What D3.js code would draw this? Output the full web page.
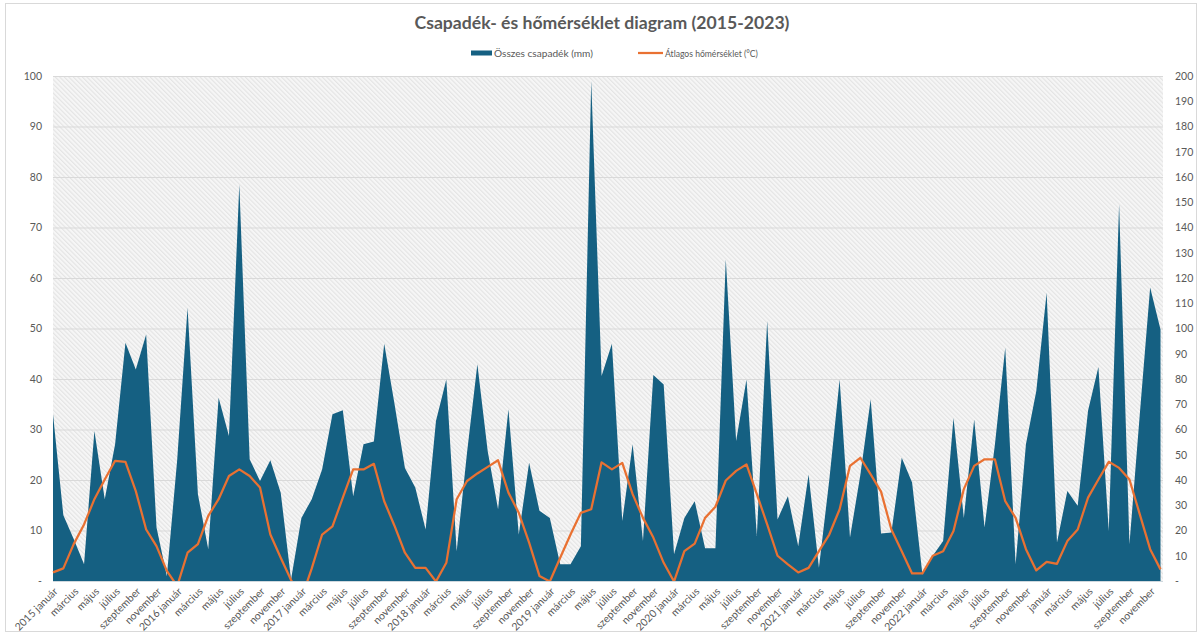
<!DOCTYPE html>
<html>
<head>
<meta charset="utf-8">
<script src="https://cdn.jsdelivr.net/npm/d3@7"></script>
<style>
  body { margin: 0; background: #ffffff; }
  svg { display: block; font-family: Lato, "Open Sans", sans-serif; }
</style>
</head>
<body>
<svg id="chart" width="1198" height="634"></svg>
<script>
// ---------------- DATA ----------------
const years = [2015, 2016, 2017, 2018, 2019, 2020, 2021, 2022, 2023];
const months = ["január", "február", "március", "április", "május", "június",
                "július", "augusztus", "szeptember", "október", "november", "december"];
// years whose January label carries the year prefix in the reference
const labelledYears = [2015, 2016, 2017, 2018, 2019, 2020, 2021, 2022];

// Összes csapadék (mm) – right axis
const precipitation = [
  66.0, 26.0, 16.6, 6.6, 59.4, 32.4, 54.2, 94.4, 83.8, 97.6, 21.2, 2.0,
  48.0, 108.2, 34.4, 12.6, 72.6, 57.4, 157.0, 48.2, 39.6, 47.8, 35.0, 0.6,
  25.0, 32.4, 44.2, 66.0, 67.6, 33.6, 54.2, 55.2, 94.0, 70.0, 44.8, 37.0,
  20.4, 63.4, 79.8, 11.8, 50.8, 85.8, 51.4, 28.4, 68.0, 18.4, 46.8, 27.8,
  25.0, 6.6, 6.6, 13.8, 198.0, 81.2, 94.0, 23.8, 54.2, 15.8, 81.6, 77.8,
  10.6, 25.0, 31.6, 13.0, 13.0, 127.4, 55.4, 79.8, 17.8, 103.0, 24.4, 33.6,
  13.8, 42.2, 5.2, 40.0, 79.8, 17.2, 42.0, 72.0, 18.8, 19.2, 48.8, 39.0,
  2.6, 10.0, 15.8, 64.6, 25.0, 64.0, 21.2, 54.0, 92.4, 6.6, 54.2, 75.2,
  114.2, 15.2, 35.6, 29.8, 67.4, 84.8, 19.8, 149.2, 14.6, 66.0, 116.2, 99.6
];

// Átlagos hőmérséklet (°C) – left axis
const temperature = [
  1.7, 2.5, 7.3, 11.2, 16.2, 20.1, 23.8, 23.6, 17.8, 10.2, 6.9, 2.0,
  -1.0, 5.6, 7.3, 12.9, 16.2, 20.8, 22.1, 20.8, 18.5, 9.2, 4.6, 0.2,
  -3.5, 2.5, 9.2, 10.8, 16.5, 22.1, 22.1, 23.2, 15.8, 10.9, 5.6, 2.6,
  2.6, -0.1, 3.6, 16.2, 19.8, 21.3, 22.6, 23.9, 17.5, 13.5, 7.6, 1.0,
  -0.1, 4.6, 9.2, 13.5, 14.2, 23.5, 22.1, 23.4, 17.2, 12.5, 8.6, 3.6,
  -0.1, 5.9, 7.4, 12.5, 14.7, 19.9, 21.8, 23.1, 17.2, 11.2, 5.0, 3.3,
  1.7, 2.6, 5.9, 9.2, 14.2, 22.8, 24.4, 21.1, 17.7, 10.2, 5.9, 1.5,
  1.5, 5.0, 5.9, 9.9, 18.2, 22.8, 24.1, 24.1, 15.8, 12.5, 6.3, 2.1,
  3.8, 3.4, 7.9, 10.2, 16.5, 20.1, 23.6, 22.4, 20.1, 13.2, 6.3, 2.3
];

const leftTicks = [0, 10, 20, 30, 40, 50, 60, 70, 80, 90, 100];
const rightTicks = [0, 10, 20, 30, 40, 50, 60, 70, 80, 90, 100,
                    110, 120, 130, 140, 150, 160, 170, 180, 190, 200];

const titleText = "Csapadék- és hőmérséklet diagram (2015-2023)";
const legendPrecip = "Összes csapadék (mm)";
const legendTemp = "Átlagos hőmérséklet (°C)";

// ---------------- BUILD ----------------
const categories = [];
years.forEach(y => months.forEach((m, mi) =>
  categories.push(mi === 0 && labelledYears.includes(y) ? y + " " + m : m)));
const keys = categories.map((c, i) => i);

const svg = d3.select("#chart");
const W = 1198, H = 634;
const plot = { left: 53, right: 1163, top: 76, bottom: 581 };
const lastX = 1160.5;

const BLUE = "#156082", ORANGE = "#E97132", TEXT = "#595959", GRID = "#d9d9d9";

svg.append("rect").attr("x", 5.5).attr("y", 3.5).attr("width", W - 7).attr("height", H - 6)
   .attr("fill", "#ffffff").attr("stroke", "#d9d9d9").attr("stroke-width", 1);

const x = d3.scalePoint().domain(keys).range([plot.left, lastX]);
const yL = d3.scaleLinear().domain([0, 100]).range([plot.bottom, plot.top]);
const yR = d3.scaleLinear().domain([0, 200]).range([plot.bottom, plot.top]);

// hatch pattern
const defs = svg.append("defs");
const pat = defs.append("pattern").attr("id", "hatch").attr("patternUnits", "userSpaceOnUse")
  .attr("width", 3.2).attr("height", 3.2).attr("patternTransform", "rotate(-45)");
pat.append("rect").attr("width", 3.2).attr("height", 3.2).attr("fill", "#f6f6f6");
pat.append("line").attr("x1", 0.6).attr("y1", 0).attr("x2", 0.6).attr("y2", 3.2)
   .attr("stroke", "#e2e2e2").attr("stroke-width", 1);

defs.append("clipPath").attr("id", "plotClip").append("rect")
  .attr("x", plot.left - 1).attr("y", plot.top - 2)
  .attr("width", plot.right - plot.left + 2).attr("height", plot.bottom - plot.top + 2);

svg.append("rect").attr("x", plot.left).attr("y", plot.top)
  .attr("width", plot.right - plot.left).attr("height", plot.bottom - plot.top)
  .attr("fill", "url(#hatch)");

// gridlines (left axis)
svg.append("g").selectAll("line").data(leftTicks.filter(d => d > 0)).join("line")
  .attr("x1", plot.left).attr("x2", plot.right)
  .attr("y1", d => yL(d) + 0.5).attr("y2", d => yL(d) + 0.5)
  .attr("stroke", GRID).attr("stroke-width", 1);

// area (precipitation, right axis)
const area = d3.area().x((d, i) => x(i)).y0(yR(0)).y1(d => yR(d));
svg.append("path").datum(precipitation).attr("d", area).attr("fill", BLUE);

// bottom axis line
svg.append("line").attr("x1", plot.left).attr("x2", plot.right)
  .attr("y1", plot.bottom + 0.5).attr("y2", plot.bottom + 0.5)
  .attr("stroke", "#cfd8de").attr("stroke-width", 1);

// temperature line (left axis), clipped at zero
const line = d3.line().x((d, i) => x(i)).y(d => yL(d));
svg.append("path").datum(temperature).attr("d", line)
  .attr("clip-path", "url(#plotClip)")
  .attr("fill", "none").attr("stroke", ORANGE).attr("stroke-width", 2.25)
  .attr("stroke-linejoin", "round");

// axes
const fmt = d => d === 0 ? "-" : String(d);
const leftAxis = d3.axisLeft(yL).tickValues(leftTicks).tickFormat(fmt).tickSize(0).tickPadding(11);
const gL = svg.append("g").attr("transform", `translate(${plot.left},0)`).call(leftAxis);
gL.select(".domain").remove();
gL.selectAll("text").attr("fill", TEXT).style("font-size", "10.5px").style("font-family", "Lato, sans-serif");

const rightAxis = d3.axisRight(yR).tickValues(rightTicks).tickFormat(fmt).tickSize(0).tickPadding(12);
const gR = svg.append("g").attr("transform", `translate(${plot.right},0)`).call(rightAxis);
gR.select(".domain").remove();
gR.selectAll("text").attr("fill", TEXT).style("font-size", "10.5px").style("font-family", "Lato, sans-serif");

const bottomAxis = d3.axisBottom(x).tickValues(keys.filter(i => i % 2 === 0))
  .tickFormat(i => categories[i]).tickSize(0).tickPadding(0);
const gB = svg.append("g").attr("transform", `translate(0,${plot.bottom})`).call(bottomAxis);
gB.select(".domain").remove();
gB.selectAll("text")
  .attr("fill", TEXT).style("font-size", "10.5px").style("font-family", "Lato, sans-serif")
  .attr("text-anchor", "end").attr("dy", null).attr("y", null)
  .attr("transform", "translate(5,11) rotate(-45)");

// title
const title = svg.append("text").attr("x", 602).attr("y", 29).attr("text-anchor", "middle")
  .attr("fill", TEXT).style("font-weight", "bold").style("font-size", "18px").text(titleText);
const tw = title.node().getComputedTextLength();
if (tw > 0) title.style("font-size", (18 * 375 / tw) + "px");

// legend
const lg = svg.append("g");
lg.append("rect").attr("x", 471).attr("y", 50.5).attr("width", 21).attr("height", 5).attr("fill", BLUE);
const t1 = lg.append("text").attr("x", 494).attr("y", 56.5).attr("fill", TEXT)
  .style("font-size", "9.5px").text(legendPrecip);
const w1 = t1.node().getComputedTextLength();
if (w1 > 0) t1.style("font-size", (9.5 * 99 / w1) + "px");
lg.append("line").attr("x1", 638).attr("x2", 663).attr("y1", 53).attr("y2", 53)
  .attr("stroke", ORANGE).attr("stroke-width", 2.25);
lg.append("text").attr("x", 665).attr("y", 56.5).attr("fill", TEXT)
  .style("font-size", "8.6px").text(legendTemp);
</script>
</body>
</html>
